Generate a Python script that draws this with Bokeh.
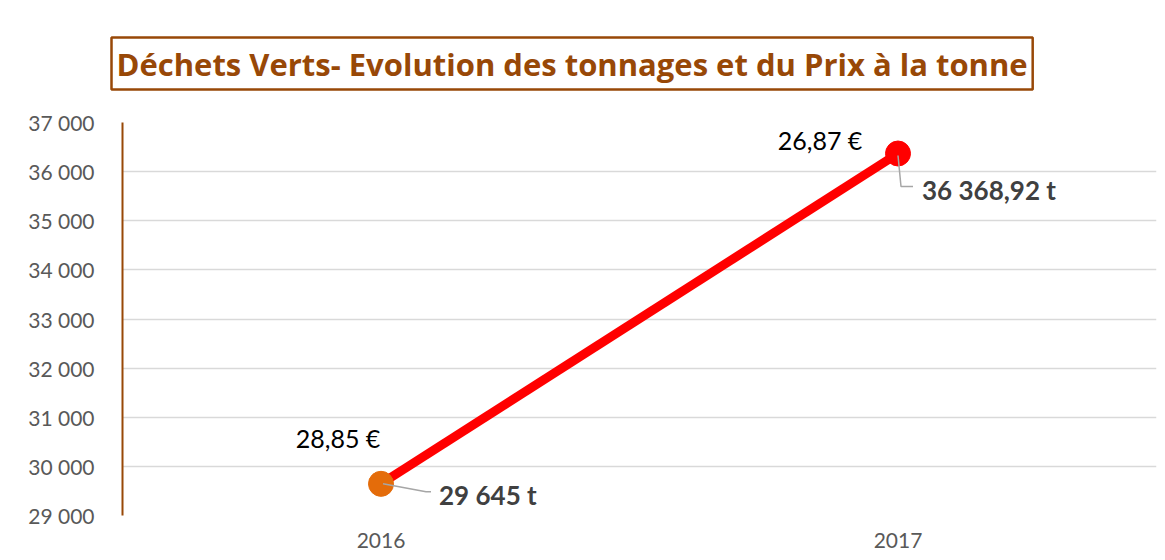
from bokeh.plotting import figure
from bokeh.models import ColumnDataSource, FixedTicker, Range1d, Title
from bokeh.core.properties import value
from bokeh.embed import file_html
from bokeh.resources import INLINE

# ---- data ----
years = ["2016", "2017"]
tonnages = [29645, 36368.92]
prix = [28.85, 26.87]
tonnage_labels = ["29 645 t", "36 368,92 t"]
prix_labels = ["28,85 €", "26,87 €"]
marker_colors = ["#E46C0A", "#FF0000"]
y_ticks = [29000, 30000, 31000, 32000, 33000, 34000, 35000, 36000, 37000]
y_tick_labels = ["29 000", "30 000", "31 000", "32 000", "33 000", "34 000", "35 000", "36 000", "37 000"]
title_text = "Déchets Verts- Evolution des tonnages et du Prix à la tonne"

FONT = "Lato"
W, H = 1157, 552
ML, MR, MT, MB = 122, 1, 122, 37
frame_w = W - ML - MR
frame_h = H - MT - MB

xs = [i + 0.5 for i in range(len(years))]
x_range = Range1d(0, len(years))
y_range = Range1d(29000, 37000)
ux = len(years) / frame_w          # data units per pixel
uy = (37000 - 29000) / frame_h

p = figure(width=W, height=H, x_range=x_range, y_range=y_range,
           output_backend="svg", toolbar_location=None,
           min_border_left=ML, min_border_right=MR, min_border_top=MT, min_border_bottom=MB)
p.outline_line_color = None
p.background_fill_color = "white"
p.border_fill_color = "white"

# title box
t = Title(text=title_text, text_font="Open Sans", text_font_style="bold", text_font_size="31px",
          text_color="#984807", align="left", offset=-11, standoff=66,
          border_line_color="#984807", border_line_width=2.5,
          background_fill_color="white", padding=5)
p.add_layout(t, "above")

# axes
p.yaxis.ticker = FixedTicker(ticks=y_ticks)
p.yaxis.major_label_overrides = {t: l for t, l in zip(y_ticks, y_tick_labels)}
p.yaxis.axis_line_color = "#984807"
p.yaxis.axis_line_width = 2
p.yaxis.major_tick_line_color = None
p.yaxis.minor_tick_line_color = None
p.yaxis.major_label_standoff = 22
p.yaxis.major_label_text_font = FONT
p.yaxis.major_label_text_font_size = "21px"
p.yaxis.major_label_text_color = "#595959"

p.xaxis.ticker = FixedTicker(ticks=xs)
p.xaxis.major_label_overrides = {x: y for x, y in zip(xs, years)}
p.xaxis.axis_line_color = None
p.xaxis.major_tick_line_color = None
p.xaxis.minor_tick_line_color = None
p.xaxis.major_label_standoff = 11
p.xaxis.major_label_text_font = FONT
p.xaxis.major_label_text_font_size = "21px"
p.xaxis.major_label_text_color = "#595959"

p.xgrid.grid_line_color = None
p.ygrid.grid_line_color = "#D9D9D9"
p.ygrid.grid_line_width = 1.5

src = ColumnDataSource(dict(x=xs, y=tonnages, c=marker_colors, tl=tonnage_labels, pl=prix_labels))

p.line("x", "y", source=src, line_color="#FF0000", line_width=9)
p.scatter("x", "y", source=src, size=25, fill_color="c", line_color="c")

# leader lines (pixel offsets converted to data units)
lx0 = [xs[0] + 2 * ux, xs[0] + 45 * ux, xs[0] + 50 * ux]
ly0 = [tonnages[0] - 0 * uy, tonnages[0] - 8 * uy, tonnages[0] - 8 * uy]
lx1 = [xs[1] + 0 * ux, xs[1] + 3 * ux, xs[1] + 15 * ux]
ly1 = [tonnages[1] - 2 * uy, tonnages[1] - 33 * uy, tonnages[1] - 33 * uy]
p.multi_line([lx0, lx1], [ly0, ly1], line_color="#A6A6A6", line_width=1.5)

# data labels
p.text([xs[0]], [tonnages[0]], text=[tonnage_labels[0]], x_offset=58, y_offset=11,
       text_font=value(FONT), text_font_style="bold", text_font_size="26px",
       text_color="#404040", text_baseline="middle", text_align="left")
p.text([xs[1]], [tonnages[1]], text=[tonnage_labels[1]], x_offset=24, y_offset=36,
       text_font=value(FONT), text_font_style="bold", text_font_size="26px",
       text_color="#404040", text_baseline="middle", text_align="left")
p.text([xs[0]], [tonnages[0]], text=[prix_labels[0]], x_offset=-43, y_offset=-46,
       text_font=value(FONT), text_font_size="25px",
       text_color="#000000", text_baseline="middle", text_align="center")
p.text([xs[1]], [tonnages[1]], text=[prix_labels[1]], x_offset=-78, y_offset=-14,
       text_font=value(FONT), text_font_size="25px",
       text_color="#000000", text_baseline="middle", text_align="center")

open("out.html", "w").write(file_html(p, INLINE))
